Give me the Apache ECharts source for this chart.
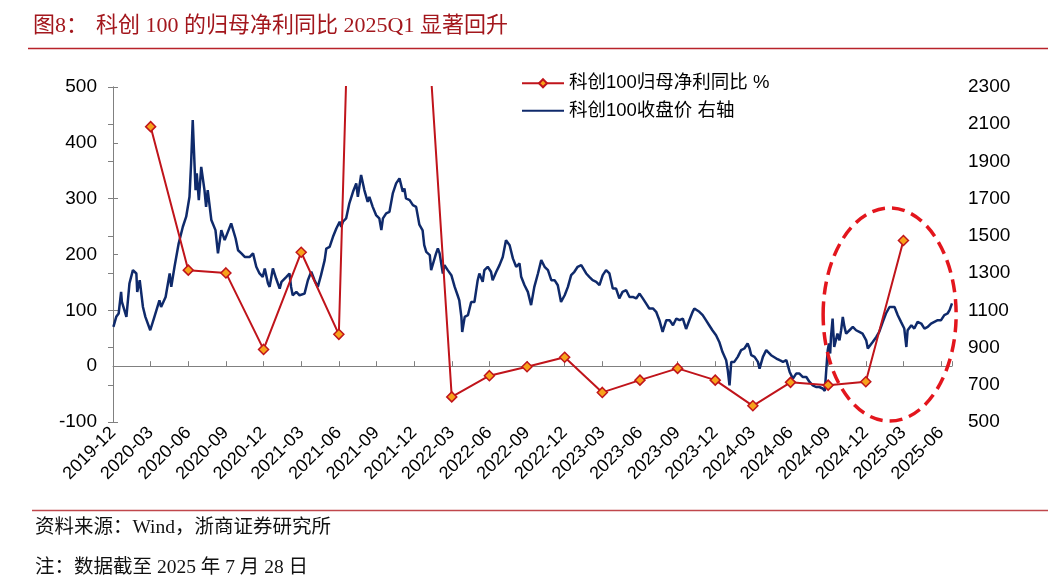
<!DOCTYPE html>
<html><head><meta charset="utf-8">
<script src="https://cdn.jsdelivr.net/npm/echarts@6/dist/echarts.min.js"></script>
<style>html,body{margin:0;padding:0;background:#fff}#c{width:1048px;height:584px}</style>
</head><body><div id="c"></div>
<script>
// ---- data ----
const profitQuarters = ['2020-03','2020-06','2020-09','2020-12','2021-03','2021-06','2021-09','2021-12','2022-03','2022-06','2022-09','2022-12','2023-03','2023-06','2023-09','2023-12','2024-03','2024-06','2024-09','2024-12','2025-03'];
const profitYoY = [429,172,167,30,204,57,2400,990,-55,-17,-1,16,-47,-25,-4,-25,-71,-29,-34,-28,225];

const closeDates = ['2020-01-02','2020-01-09','2020-01-15','2020-01-21','2020-01-23','2020-02-03','2020-02-10','2020-02-18','2020-02-26','2020-02-28','2020-03-05','2020-03-13','2020-03-19','2020-03-31','2020-04-10','2020-04-22','2020-04-26','2020-05-07','2020-05-17','2020-05-21','2020-05-29','2020-06-08','2020-06-18','2020-06-26','2020-07-04','2020-07-08','2020-07-12','2020-07-15','2020-07-19','2020-07-22','2020-07-27','2020-08-02','2020-08-10','2020-08-14','2020-08-18','2020-08-27','2020-09-06','2020-09-12','2020-09-20','2020-09-28','2020-10-14','2020-10-25','2020-10-31','2020-11-08','2020-11-16','2020-11-28','2020-12-06','2020-12-14','2020-12-22','2020-12-30',
'2021-01-04','2021-01-12','2021-01-16','2021-01-24','2021-02-01','2021-02-09','2021-02-13','2021-02-24','2021-03-03','2021-03-07','2021-03-11','2021-03-20','2021-03-28','2021-04-09','2021-04-17','2021-04-25','2021-05-03','2021-05-11','2021-05-19','2021-05-28','2021-06-01','2021-06-09','2021-06-17','2021-06-25','2021-07-03','2021-07-07','2021-07-11','2021-07-19','2021-07-27','2021-08-05','2021-08-13','2021-08-17','2021-08-25','2021-09-02','2021-09-10','2021-09-14','2021-09-22','2021-09-30','2021-10-08','2021-10-13','2021-10-17','2021-10-25','2021-11-02','2021-11-10','2021-11-18','2021-11-26','2021-12-04','2021-12-08','2021-12-12','2021-12-21','2021-12-29',
'2022-01-06','2022-01-14','2022-01-22','2022-01-26','2022-01-31','2022-02-08','2022-02-11','2022-02-15','2022-02-22','2022-02-26','2022-03-02','2022-03-10','2022-03-14','2022-03-22','2022-03-31','2022-04-08','2022-04-15','2022-04-19','2022-04-24','2022-04-26','2022-05-02','2022-05-10','2022-05-18','2022-05-26','2022-06-03','2022-06-07','2022-06-15','2022-06-19','2022-06-27','2022-07-05','2022-07-09','2022-07-18','2022-07-26','2022-08-03','2022-08-11','2022-08-20','2022-08-28','2022-09-05','2022-09-13','2022-09-17','2022-09-25','2022-10-03','2022-10-11','2022-10-19','2022-10-28','2022-11-05','2022-11-13','2022-11-21','2022-11-29','2022-12-07','2022-12-15','2022-12-23',
'2023-01-01','2023-01-09','2023-01-17','2023-01-25','2023-02-02','2023-02-10','2023-02-13','2023-02-21','2023-02-28','2023-03-08','2023-03-17','2023-03-25','2023-04-02','2023-04-10','2023-04-18','2023-04-26','2023-05-04','2023-05-12','2023-05-20','2023-05-29','2023-06-06','2023-06-14','2023-06-22','2023-06-30','2023-07-08','2023-07-16','2023-07-24','2023-08-02','2023-08-10','2023-08-18','2023-08-26','2023-09-04','2023-09-12','2023-09-20','2023-09-28','2023-10-06','2023-10-14','2023-10-22','2023-10-30','2023-11-07','2023-11-11','2023-11-23','2023-12-01','2023-12-09','2023-12-17','2023-12-25',
'2024-01-03','2024-01-11','2024-01-19','2024-01-28','2024-02-01','2024-02-05','2024-02-09','2024-02-16','2024-02-24','2024-03-03','2024-03-11','2024-03-19','2024-03-24','2024-03-28','2024-04-05','2024-04-13','2024-04-17','2024-04-25','2024-05-03','2024-05-07','2024-05-15','2024-05-28','2024-06-05','2024-06-13','2024-06-21','2024-06-29','2024-07-07','2024-07-15','2024-07-23','2024-07-31','2024-08-09','2024-08-17','2024-08-25','2024-09-02','2024-09-10','2024-09-18','2024-09-23','2024-09-27','2024-09-30','2024-10-03','2024-10-06','2024-10-08','2024-10-12','2024-10-14','2024-10-16','2024-10-20','2024-10-24','2024-10-29','2024-11-02','2024-11-06','2024-11-10','2024-11-14','2024-11-22','2024-11-30','2024-12-08','2024-12-16','2024-12-24',
'2025-01-02','2025-01-06','2025-01-10','2025-01-18','2025-01-27','2025-02-03','2025-02-11','2025-02-18','2025-02-26','2025-03-02','2025-03-10','2025-03-18','2025-03-26','2025-04-03','2025-04-08','2025-04-11','2025-04-20','2025-04-27','2025-05-05','2025-05-14','2025-05-22','2025-05-30','2025-06-07','2025-06-15','2025-06-23','2025-07-01','2025-07-09','2025-07-17','2025-07-22','2025-07-28'];
const closeValues = [1011,1065,1083,1199,1145,1065,1244,1316,1298,1199,1262,1118,1065,993,1065,1154,1118,1172,1298,1226,1334,1459,1549,1603,1710,1890,2123,1961,1746,1836,1692,1871,1746,1656,1746,1585,1531,1406,1531,1477,1567,1486,1423,1406,1387,1387,1406,1334,1298,1280,
1325,1244,1226,1325,1271,1217,1253,1280,1298,1226,1181,1199,1181,1190,1262,1307,1262,1226,1289,1370,1432,1441,1495,1540,1576,1549,1576,1594,1675,1737,1782,1710,1827,1746,1683,1710,1656,1612,1594,1531,1594,1621,1629,1728,1782,1809,1737,1755,1701,1692,1665,
1656,1560,1530,1450,1414,1397,1316,1307,1406,1432,1406,1298,1343,1316,1289,1226,1181,1154,1065,984,1065,1074,1145,1145,1262,1298,1253,1316,1334,1307,1262,1307,1343,1387,1477,1450,1379,1334,1352,1280,1235,1199,1128,1226,1298,1370,1334,1316,1262,1262,1235,1145,
1181,1226,1289,1307,1334,1343,1352,1298,1280,1262,1253,1235,1289,1316,1298,1217,1217,1164,1199,1208,1172,1172,1164,1190,1164,1137,1110,1110,1092,1047,984,1047,1047,1020,1056,1047,1056,1000,1047,1092,1110,1092,1074,1047,1020,993,
966,930,876,832,778,697,823,823,850,886,895,922,895,859,850,823,787,850,886,895,859,841,832,823,832,769,733,760,760,742,742,715,697,688,688,680,667,796,886,922,868,957,1056,975,903,913,975,939,993,1065,1011,975,993,1011,993,984,975,
939,895,886,930,957,984,1038,1083,1118,1128,1118,1074,1038,1002,903,993,1020,1002,1038,1029,1002,1011,1029,1038,1047,1047,1074,1083,1101,1137];

const leftAxisRange = {min: -100, max: 500, step: 100};
const rightAxisRange = {min: 500, max: 2300, step: 200};
const legendNames = ['科创100归母净利同比 %', '科创100收盘价 右轴'];
const titleLabel = '图8：';
const titleText = '科创 100 的归母净利同比 2025Q1 显著回升';
const sourceText = '资料来源：Wind，浙商证券研究所';
const noteText = '注：数据截至 2025 年 7 月 28 日';
// highlighted region (data units): months since 2019-12 end and right-axis values
const highlight = {xFrom: 56.6, xTo: 67.2, yFrom: 505, yTo: 1650};

// ---- helpers ----
function monthIndexOfDate(s){const p=s.split('-').map(Number);const dim=new Date(p[0],p[1],0).getDate();return (p[0]-2020)*12+(p[1]-1)+(p[2]-1)/dim;}
function monthIndexOfQuarter(s){const p=s.split('-').map(Number);return (p[0]-2020)*12+p[1];}
function labelOf(v){const t=2019*12+11+Math.round(v);return Math.floor(t/12)+'-'+String(t%12+1).padStart(2,'0');}

const xMax = monthIndexOfDate(closeDates[closeDates.length-1]);
const closeData = closeDates.map((d,i)=>[monthIndexOfDate(d), closeValues[i]]);
const profitData = profitQuarters.map((q,i)=>[monthIndexOfQuarter(q), profitYoY[i]]);

const FONT = "'Liberation Sans', Arial, 'Noto Sans CJK SC', sans-serif";
const SERIF = "'Liberation Serif', 'Times New Roman', 'Noto Sans CJK SC', serif";
const AXIS_COLOR = '#808080';
const BLUE = '#0f2a6b', RED = '#c0141b';

const chart = echarts.init(document.getElementById('c'), null, {renderer:'canvas'});
const option = {
  animation: false,
  backgroundColor: '#fff',
  grid: {left: 113, right: 96, top: 87, bottom: 162, containLabel: false},
  legend: {
    data: [
      {name: legendNames[0]},
      {name: legendNames[1], itemStyle: {color: 'rgba(0,0,0,0)', borderWidth: 0, opacity: 0}}
    ],
    orient: 'vertical', left: 516, top: 69, itemGap: 9,
    itemWidth: 42, itemHeight: 10,
    textStyle: {fontSize: 18.5, color: '#000', fontFamily: FONT}
  },
  xAxis: [
    {type:'value', min:0, max:xMax, interval:3, position:'bottom',
     axisLine:{show:false, onZero:false}, axisTick:{show:false}, splitLine:{show:false},
     axisLabel:{rotate:45, formatter:labelOf, showMaxLabel:false, fontSize:18, color:'#000', fontFamily:FONT, margin:8}},
    {type:'value', min:0, max:xMax, interval:3, position:'bottom',
     axisLine:{show:true, onZero:true, onZeroAxisIndex:0, lineStyle:{color:AXIS_COLOR, width:1}},
     axisTick:{show:true, inside:true, length:5, lineStyle:{color:AXIS_COLOR}},
     axisLabel:{show:false}, splitLine:{show:false}}
  ],
  yAxis: [
    {type:'value', min:leftAxisRange.min, max:leftAxisRange.max, interval:leftAxisRange.step, position:'left',
     axisLine:{show:true, lineStyle:{color:AXIS_COLOR}}, axisTick:{show:true, inside:true, length:5, lineStyle:{color:AXIS_COLOR}},
     splitLine:{show:false}, axisLabel:{fontSize:19, color:'#000', fontFamily:FONT, margin:16, formatter: v => String(v)}},
    {type:'value', min:rightAxisRange.min, max:rightAxisRange.max, interval:rightAxisRange.step, position:'right',
     axisLine:{show:true, lineStyle:{color:AXIS_COLOR}}, axisTick:{show:true, inside:true, length:5, lineStyle:{color:AXIS_COLOR}},
     splitLine:{show:false}, axisLabel:{fontSize:19, color:'#000', fontFamily:FONT, margin:16, formatter: v => String(v)}}
  ],
  series: [
    {name: legendNames[1], type:'line', xAxisIndex:0, yAxisIndex:1, data: closeData, showSymbol:false, symbol:'none',
     lineStyle:{color:BLUE, width:2.5}, itemStyle:{color:BLUE}, z:2},
    {name: legendNames[0], type:'line', xAxisIndex:0, yAxisIndex:0, data: profitData, clip:true,
     symbol:'diamond', symbolSize:10, showSymbol:true,
     lineStyle:{color:RED, width:2}, itemStyle:{color:'#f7a21b', borderColor:RED, borderWidth:1.5}, z:3}
  ]
};
chart.setOption(option);

const p0 = chart.convertToPixel({xAxisIndex:0, yAxisIndex:1}, [highlight.xFrom, highlight.yTo]);
const p1 = chart.convertToPixel({xAxisIndex:0, yAxisIndex:1}, [highlight.xTo, highlight.yFrom]);

chart.setOption({
  graphic: [
    {type:'text', left:33, top:15, style:{text:titleLabel, fontSize:22, fill:'#a3171d', fontFamily:SERIF}},
    {type:'text', left:96, top:15, style:{text:titleText, fontSize:22, fill:'#a3171d', fontFamily:SERIF}},
    {type:'line', shape:{x1:28, y1:48.5, x2:1048, y2:48.5}, style:{stroke:'#b8232a', lineWidth:1.5}},
    {type:'line', shape:{x1:32, y1:510.5, x2:1048, y2:510.5}, style:{stroke:'#c0474c', lineWidth:1.5}},
    {type:'text', left:35, top:518, style:{text:sourceText, fontSize:19.5, fill:'#111', fontFamily:SERIF}},
    {type:'text', left:35, top:558, style:{text:noteText, fontSize:19.5, fill:'#111', fontFamily:SERIF}},
    {type:'ellipse', z:10, shape:{cx:(p0[0]+p1[0])/2, cy:(p0[1]+p1[1])/2, rx:Math.abs(p1[0]-p0[0])/2, ry:Math.abs(p1[1]-p0[1])/2},
     style:{fill:'none', stroke:'#e3161d', lineWidth:3.5, lineDash:[13,7]}}
  ]
});
</script></body></html>
